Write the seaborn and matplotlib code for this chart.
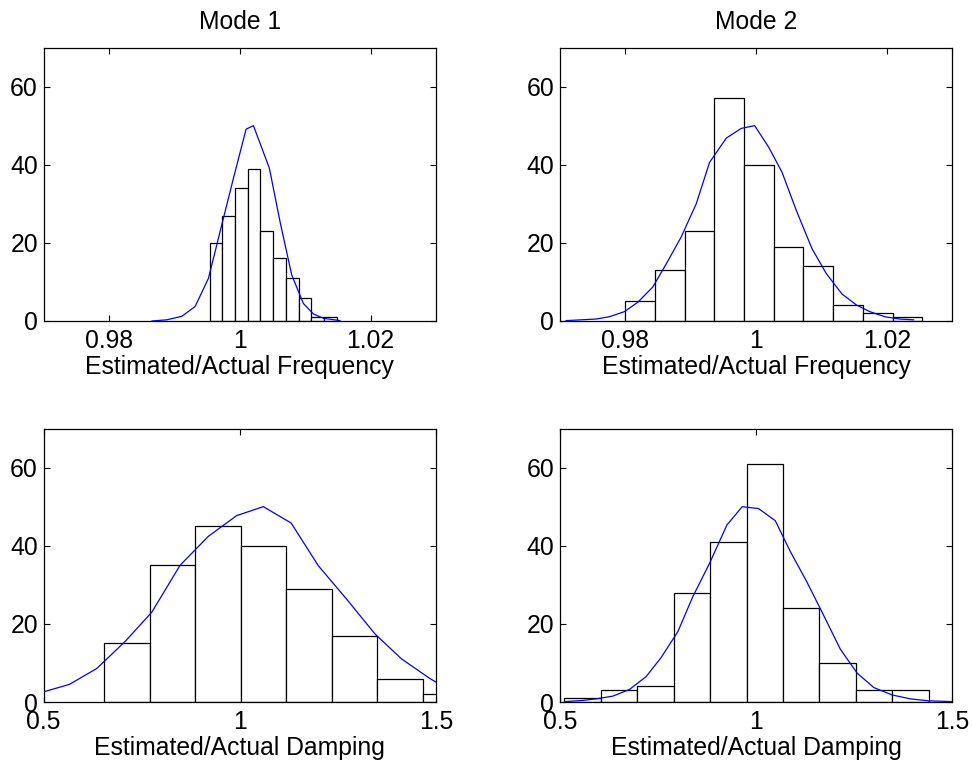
import matplotlib
matplotlib.use("Agg")
import matplotlib.pyplot as plt
import seaborn as sns
import numpy as np

# Histogram bin edges and counts for each panel
freq1_edges = [0.9954, 0.9973, 0.9993, 1.0012, 1.0031, 1.0051, 1.0070, 1.0090, 1.0109, 1.0129, 1.0148]
freq1_counts = [20, 27, 34, 39, 23, 16, 11, 6, 1, 1]

freq2_edges = [0.9800, 0.98453, 0.98908, 0.99362, 0.99817, 1.00271, 1.00726, 1.01180, 1.01635, 1.02089, 1.02544]
freq2_counts = [5, 13, 23, 57, 40, 19, 14, 4, 2, 1]

damp1_edges = [0.6545, 0.7704, 0.8863, 1.0022, 1.1181, 1.2340, 1.3499, 1.4658, 1.5817]
damp1_counts = [15, 35, 45, 40, 29, 17, 6, 2]

damp2_edges = [0.5119, 0.6048, 0.6976, 0.7905, 0.8833, 0.9762, 1.0691, 1.1619, 1.2548, 1.3476, 1.4405]
damp2_counts = [1, 3, 4, 28, 41, 61, 24, 10, 3, 3]

# Fitted distribution curves (scaled)
freq1_fit_x = [0.98655, 0.98884, 0.99114, 0.99317, 0.99521, 0.99725, 0.99903, 1.00097, 1.00209,
               1.00453, 1.00616, 1.00794, 1.00972, 1.01125, 1.01278, 1.01533]
freq1_fit_y = [0.0, 0.3, 1.2, 3.7, 10.9, 24.6, 36.5, 49.1, 50.0, 39.1, 25.4, 11.8, 4.5, 1.8, 0.7, 0.1]

freq2_fit_x = [0.97097, 0.97327, 0.97556, 0.97760, 0.97990, 0.98194, 0.98423, 0.98628, 0.98857,
               0.99087, 0.99291, 0.99546, 0.99776, 0.99980, 1.00194, 1.00398, 1.00617, 1.00857,
               1.01077, 1.01316, 1.01536, 1.01740, 1.01969, 1.02199, 1.02413]
freq2_fit_y = [0.1, 0.3, 0.5, 1.1, 2.4, 4.8, 8.7, 14.6, 21.5, 30.0, 40.6, 46.8, 49.3, 50.0, 44.5,
               38.1, 28.3, 18.5, 12.1, 6.9, 4.1, 2.4, 1.1, 0.5, 0.3]

damp1_fit_x = [0.500, 0.566, 0.636, 0.708, 0.776, 0.848, 0.920, 0.992, 1.060, 1.131, 1.200,
               1.2725, 1.3447, 1.4126, 1.4847, 1.500]
damp1_fit_y = [2.6, 4.5, 8.6, 15.5, 23.0, 35.0, 42.4, 47.7, 50.0, 45.8, 34.9, 26.3, 17.4, 11.0, 6.0, 5.1]

damp2_fit_x = [0.5119, 0.5587, 0.5927, 0.6352, 0.6777, 0.7202, 0.7585, 0.8010, 0.8393, 0.8818,
               0.9260, 0.9651, 1.0068, 1.0493, 1.0876, 1.1284, 1.1709, 1.2151, 1.2577, 1.3002,
               1.3469, 1.3937, 1.4405, 1.5000]
damp2_fit_y = [0.1, 0.4, 0.8, 1.5, 3.2, 6.5, 11.4, 18.0, 27.0, 35.5, 45.3, 50.0, 49.5, 46.4,
               38.5, 31.0, 22.5, 13.5, 7.4, 3.7, 1.8, 0.8, 0.3, 0.1]

titles = ["Mode 1", "Mode 2"]
freq_ticks = [0.98, 1.0, 1.02]
freq_ticklabels = ["0.98", "1", "1.02"]
damp_ticks = [0.5, 1.0, 1.5]
damp_ticklabels = ["0.5", "1", "1.5"]
y_ticks = [0, 20, 40, 60]

sns.set_style("ticks")
plt.rcParams["font.family"] = ["Liberation Sans", "DejaVu Sans"]
plt.rcParams["axes.linewidth"] = 0.9
plt.rcParams["text.color"] = "black"
plt.rcParams["axes.labelcolor"] = "black"
plt.rcParams["xtick.color"] = "black"
plt.rcParams["ytick.color"] = "black"

fig = plt.figure(figsize=(9.72, 7.62), dpi=100)
W, H = 972.0, 762.0
col_left = [43.5, 559.7]
row_top = [47.5, 428.5]
ax_w, ax_h = 392.5, 273.5

panels = [
    (0, 0, freq1_edges, freq1_counts, freq1_fit_x, freq1_fit_y, "freq"),
    (0, 1, freq2_edges, freq2_counts, freq2_fit_x, freq2_fit_y, "freq"),
    (1, 0, damp1_edges, damp1_counts, damp1_fit_x, damp1_fit_y, "damp"),
    (1, 1, damp2_edges, damp2_counts, damp2_fit_x, damp2_fit_y, "damp"),
]

fs = 17.8
for row, col, edges, counts, fx, fy, kind in panels:
    ax = fig.add_axes([col_left[col] / W, 1 - (row_top[row] + ax_h) / H, ax_w / W, ax_h / H])
    edges_a = np.array(edges)
    centers = (edges_a[:-1] + edges_a[1:]) / 2
    sns.histplot(x=centers, weights=counts, bins=edges, ax=ax, color="white",
                 edgecolor="black", linewidth=0.9, alpha=1.0, zorder=2)
    sns.lineplot(x=fx, y=fy, ax=ax, color="blue", linewidth=0.9, sort=False,
                 estimator=None, zorder=3)
    ax.set_ylim(0, 70)
    ax.set_yticks(y_ticks)
    ax.set_yticklabels([str(t) for t in y_ticks], fontsize=fs)
    if kind == "freq":
        ax.set_xlim(0.97, 1.03)
        ax.set_xticks(freq_ticks)
        ax.set_xticklabels(freq_ticklabels, fontsize=fs)
        ax.set_xlabel("Estimated/Actual Frequency", fontsize=fs, labelpad=1)
    else:
        ax.set_xlim(0.5, 1.5)
        ax.set_xticks(damp_ticks)
        ax.set_xticklabels(damp_ticklabels, fontsize=fs)
        ax.set_xlabel("Estimated/Actual Damping", fontsize=fs, labelpad=1)
    ax.set_ylabel("")
    ax.tick_params(direction="in", top=True, right=True, length=4, width=0.8,
                   colors="black")
    ax.tick_params(axis="x", pad=6)
    ax.tick_params(axis="y", pad=4)
    for s in ax.spines.values():
        s.set_visible(True)
        s.set_color("black")
        s.set_linewidth(0.9)
    if row == 0:
        ax.set_title(titles[col], fontsize=fs, pad=13, color="black")

fig.savefig("out.png", dpi=100, facecolor="white")
